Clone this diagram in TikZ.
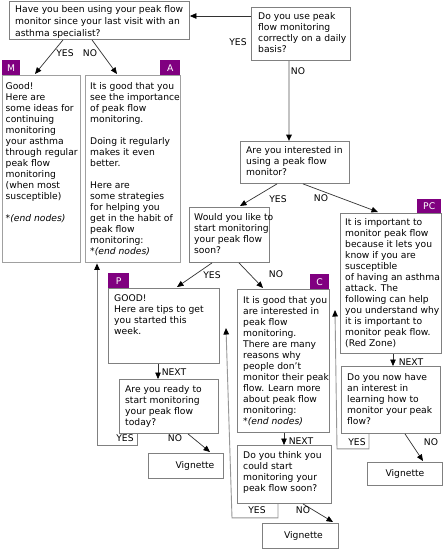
\documentclass[tikz,border=0pt]{standalone}
\usepackage{fontspec}
\setmainfont{DejaVu Sans}[ItalicFont={DejaVu Sans Oblique}]
\usetikzlibrary{arrows.meta}
\definecolor{boxgray}{RGB}{128,128,128}
\definecolor{boxlight}{RGB}{160,160,160}
\definecolor{tabpurple}{RGB}{128,0,128}
\definecolor{linedark}{RGB}{50,50,50}
\definecolor{loopgray}{RGB}{150,150,150}
\definecolor{thickgray}{RGB}{195,195,195}
\tikzset{
  box/.style={draw=boxgray, line width=0.9pt, fill=white, inner sep=0pt, anchor=north west},
  bigbox/.style={box, draw=boxlight, line width=1.4pt},
  txt/.style={font=\fontsize{9.2}{11}\selectfont, align=left, inner sep=0pt, anchor=north west},
  tabbox/.style={fill=tabpurple, text=white, font=\fontsize{9.2}{11}\selectfont, inner sep=0pt, anchor=north west},
  lbl/.style={font=\fontsize{9.2}{11}\selectfont, inner sep=0pt},
  arr/.style={draw=linedark, line width=0.7pt, -{Triangle[length=6.5pt,width=5.5pt,color=black]}},
  looparr/.style={draw=loopgray, line width=0.9pt, -{Triangle[length=6.5pt,width=5.5pt,color=black]}},
  thickarr/.style={draw=thickgray, line width=2pt, -{Triangle[length=6.5pt,width=5.5pt,color=black]}}
}
\begin{document}
\begin{tikzpicture}[x=1pt,y=-1pt]
\path[use as bounding box, fill=white] (0,0) rectangle (444,550);

% question boxes
\node[box, minimum width=180, minimum height=38] (q1) at (9,1) {};
\node[txt, font=\fontsize{9.2}{12}\selectfont] (q1t) at ([shift={(6pt,-4pt)}]q1.north west)
  {Have you been using your peak flow\\monitor since your last visit with an\\asthma specialist?};

\node[box, minimum width=99, minimum height=53] (q2) at (251,7) {};
\node[txt] (q2t) at ([shift={(7pt,-5.5pt)}]q2.north west)
  {Do you use peak\\flow monitoring\\correctly on a daily\\basis?};

% M and A
\node[bigbox, minimum width=78, minimum height=187] (m) at (2,75) {};
\node[tabbox, minimum width=18, minimum height=15] (tm) at (2,60) {M};
\node[txt] (mt) at ([shift={(3.5pt,-7pt)}]m.north west)
  {Good!\\Here are\\some ideas for\\continuing\\monitoring\\your asthma\\through regular\\peak flow\\monitoring\\(when most\\susceptible)\\[11pt]\textit{*(end nodes)}};

\node[bigbox, minimum width=95, minimum height=187] (a) at (85,75) {};
\node[tabbox, minimum width=20, minimum height=15] (ta) at (160,60) {A};
\node[txt] (at) at ([shift={(5pt,-7pt)}]a.north west)
  {It is good that you\\see the importance\\of peak flow\\monitoring.\\[11pt]Doing it regularly\\makes it even\\better.\\[11pt]Here are\\some strategies\\for helping you\\get in the habit of\\peak flow\\monitoring:\\\textit{*(end nodes)}};

% Are you interested
\node[box, minimum width=109, minimum height=42] (q3) at (240,141) {};
\node[txt] (q3t) at ([shift={(6pt,-5.5pt)}]q3.north west)
  {Are you interested in\\using a peak flow\\monitor?};

% Would you like
\node[box, minimum width=80, minimum height=55] (q4) at (189,207) {};
\node[txt] (q4t) at ([shift={(5pt,-6.5pt)}]q4.north west)
  {Would you like to\\start monitoring\\your peak flow\\soon?};

% PC
\node[box, minimum width=101, minimum height=140] (pc) at (340,213) {};
\node[tabbox, minimum width=24, minimum height=14] (tpc) at (417,199) {PC};
\node[txt] (pct) at ([shift={(5pt,-5.5pt)}]pc.north west)
  {It is important to\\monitor peak flow\\because it lets you\\know if you are\\susceptible\\of having an asthma\\attack. The\\following can help\\you understand why\\it is important to\\monitor peak flow.\\(Red Zone)};

% P
\node[box, minimum width=111, minimum height=75] (p) at (108,288) {};
\node[tabbox, minimum width=21, minimum height=15] (tp) at (108,273) {P};
\node[txt] (ptx) at ([shift={(6pt,-6.5pt)}]p.north west)
  {GOOD!\\Here are tips to get\\you started this\\week.};

% C
\node[box, minimum width=92, minimum height=143] (c) at (237,289) {};
\node[tabbox, minimum width=19, minimum height=15] (tc) at (310,274) {C};
\node[txt] (ct) at ([shift={(6pt,-7pt)}]c.north west)
  {It is good that you\\are interested in\\peak flow\\monitoring.\\There are many\\reasons why\\people don’t\\monitor their peak\\flow. Learn more\\about peak flow\\monitoring:\\\textit{*(end nodes)}};

% Are you ready
\node[box, minimum width=99, minimum height=54] (ready) at (119,379) {};
\node[txt] (readyt) at ([shift={(6pt,-6.5pt)}]ready.north west)
  {Are you ready to\\start monitoring\\your peak flow\\today?};

% Do you think
\node[box, minimum width=94, minimum height=58] (think) at (237,445) {};
\node[txt] (thinkt) at ([shift={(6pt,-6.5pt)}]think.north west)
  {Do you think you\\could start\\monitoring your\\peak flow soon?};

% Do you now
\node[box, minimum width=99, minimum height=67] (now) at (341,366) {};
\node[txt] (nowt) at ([shift={(6pt,-7pt)}]now.north west)
  {Do you now have\\an interest in\\learning how to\\monitor your peak\\flow?};

% Vignettes
\node[box, minimum width=75, minimum height=25, font=\fontsize{9.2}{11}\selectfont] (v1) at (148,453) {\hspace{18pt}Vignette};
\node[box, minimum width=76, minimum height=25, font=\fontsize{9.2}{11}\selectfont] (v2) at (262,523) {\hspace{6pt}Vignette};
\node[box, minimum width=75, minimum height=23, font=\fontsize{9.2}{11}\selectfont] (v3) at (367,462) {Vignette};

% free ends
\coordinate (fe1) at (226,328);
\coordinate (fe2) at (335,310);

% connectors
\draw[arr] ([yshift=-9pt]q2.north west) -- ([yshift=-15pt]q1.north east);
\node[lbl] (l1) at (238,42) {YES};
\draw[thickarr] ([xshift=38pt]q2.south west) -- ([xshift=49pt]q3.north west);
\node[lbl] (l2) at (298,71) {NO};

\draw[arr] ([xshift=54pt]q1.south west) -- ([xshift=33pt,yshift=1pt]m.north west);
\draw[arr] ([xshift=83pt]q1.south west) -- ([xshift=32pt,yshift=1pt]a.north west);
\node[lbl] (l3) at (65,53) {YES};
\node[lbl] (l4) at (90,53) {NO};

\draw[arr] ([xshift=37pt]q3.south west) -- ([xshift=51pt,yshift=1pt]q4.north west);
\draw[arr] ([xshift=63pt]q3.south west) -- ([xshift=38pt,yshift=1pt]pc.north west);
\node[lbl] (l5) at (278,199) {YES};
\node[lbl] (l6) at (321,198) {NO};

\draw[arr] ([xshift=23pt]q4.south west) -- ([xshift=69pt,yshift=1pt]p.north west);
\draw[arr] ([xshift=50pt]q4.south west) -- ([xshift=26pt,yshift=1pt]c.north west);
\node[lbl] (l7) at (212,275) {YES};
\node[lbl] (l8) at (276,274) {NO};

\draw[arr] ([xshift=50pt]p.south west) -- ([xshift=39pt]ready.north west);
\node[lbl] (l9) at (174,372) {NEXT};
\draw[arr] ([xshift=47pt]c.south west) -- ([xshift=47pt]think.north west);
\node[lbl] (l10) at (301,441) {NEXT};
\draw[arr] ([xshift=53pt]pc.south west) -- ([xshift=52pt]now.north west);
\node[lbl] (l11) at (411,362) {NEXT};

% NO to vignettes
\draw[arr] ([xshift=69pt]ready.south west) -- ([xshift=62pt,yshift=1pt]v1.north west);
\node[lbl] (l12) at (175,438) {NO};
\draw[arr] ([xshift=66pt]think.south west) -- ([xshift=71pt,yshift=1pt]v2.north west);
\node[lbl] (l13) at (303,510) {NO};
\draw[arr] ([xshift=64pt]now.south west) -- ([xshift=56pt,yshift=1pt]v3.north west);
\node[lbl] (l14) at (431,442) {NO};

% YES loops
\draw[looparr, draw=boxgray] ([xshift=18pt]ready.south west) -- ++(0,12) -- ++(-40,0) -- ([xshift=12pt]a.south west);
\node[lbl] (l15) at (125,438) {YES};
\draw[looparr] ([xshift=41pt]think.south west) -- ++(0,14) -- ++(-46,0) -- (fe1);
\node[lbl] (l16) at (257,510) {YES};
\draw[looparr] ([xshift=28pt]now.south west) -- ++(0,15) -- ++(-32,0) -- (fe2);
\node[lbl] (l17) at (357,442) {YES};
\end{tikzpicture}
\end{document}
